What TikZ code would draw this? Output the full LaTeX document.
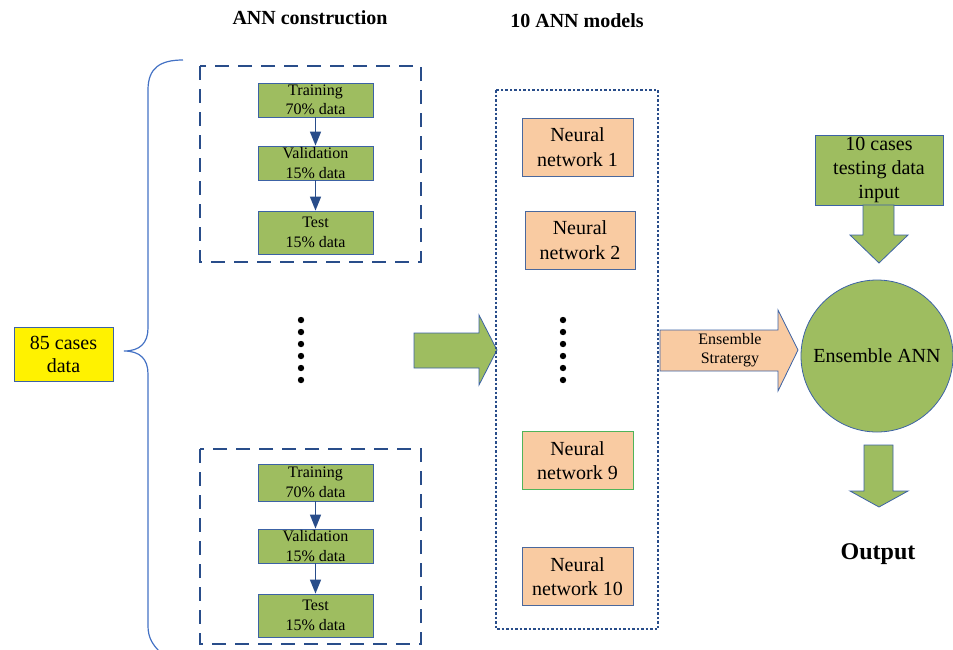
\documentclass[tikz,border=0pt]{standalone}
\usepackage{fontspec}
\setmainfont{Liberation Serif}
\usetikzlibrary{arrows.meta}
\definecolor{dblue}{RGB}{41,77,138}
\definecolor{lblue}{RGB}{60,98,165}
\definecolor{bblue}{RGB}{68,114,196}
\definecolor{ogreen}{RGB}{158,189,96}
\definecolor{lorange}{RGB}{249,203,162}
\definecolor{nngreen}{RGB}{80,180,90}
\tikzset{
  x=1pt,y=-1pt,
  phase/.style={draw=lblue,line width=0.8pt,fill=ogreen,inner sep=0pt,minimum width=115pt,align=center,font=\fontsize{16}{19.5}\selectfont},
  nnbox/.style={draw=lblue!80!gray,line width=0.8pt,fill=lorange,inner sep=0pt,minimum width=111pt,minimum height=58pt,align=center,font=\fontsize{20}{24.5}\selectfont},
  flow/.style={draw=dblue,line width=1.4pt,-{Triangle[width=11pt,length=14pt]}},
  groupbox/.style={draw=dblue,line width=2pt,dash pattern=on 14pt off 9pt},
  blockarrow/.style={draw=lblue,line width=0.8pt},
  title/.style={font=\fontsize{20}{22}\selectfont\bfseries}
}
\begin{document}
\begin{tikzpicture}
\useasboundingbox (0,0) rectangle (953,649);

% titles
\node[title] (t1) at (310,18) {ANN construction};
\node[title] (t2) at (577,21) {10 ANN models};

% 85 cases
\node[draw=lblue,line width=0.8pt,fill=yellow,minimum width=99pt,minimum height=54pt,inner sep=0pt,align=center,font=\fontsize{20}{23}\selectfont] (cases) at (63.5,354) {85 cases\\data};

% brace
\draw[bblue,line width=1.2pt] (183,60) .. controls (160,60) and (148,68) .. (148,90) -- (148,328) .. controls (148,343) and (140,351) .. (124,351) .. controls (140,351) and (148,359) .. (148,374) -- (148,626) .. controls (148,638) and (153,645) .. (160,652);

% top group
\draw[groupbox] (200,66) rectangle (421,262);
\node[phase,minimum height=34pt] (tr1) at (315.5,100) {Training\\70\% data};
\node[phase,minimum height=34pt] (va1) at (315.5,163) {Validation\\15\% data};
\node[phase,minimum height=43pt] (te1) at (315.5,232.5) {Test\\15\% data};
\draw[flow] (tr1) -- (va1);
\draw[flow] (va1) -- (te1);

% dots left
\foreach \k in {0,...,5} \fill (301,{320+12*\k}) circle (3.2pt);

% bottom group
\draw[groupbox] (200,449) rectangle (421,644);
\node[phase,minimum height=37pt] (tr2) at (315.5,482.5) {Training\\70\% data};
\node[phase,minimum height=34pt] (va2) at (315.5,546) {Validation\\15\% data};
\node[phase,minimum height=43pt] (te2) at (315.5,615.5) {Test\\15\% data};
\draw[flow] (tr2) -- (va2);
\draw[flow] (va2) -- (te2);

% big green arrow
\draw[blockarrow,fill=ogreen] (414,333) -- (479,333) -- (479,315) -- (497,350) -- (479,385) -- (479,368) -- (414,368) -- cycle;

% dotted model box
\draw[dblue,line width=2pt,dash pattern=on 2.5pt off 2pt] (496,90) rectangle (658,629);
\node[nnbox] (nn1) at (577.5,147) {Neural\\network 1};
\node[nnbox,minimum width=110pt] (nn2) at (580,240) {Neural\\network 2};
\node[nnbox,draw=nngreen] (nn9) at (577.5,460.5) {Neural\\network 9};
\node[nnbox] (nn10) at (577.5,576.5) {Neural\\network 10};
\foreach \k in {0,...,5} \fill (563,{320+12*\k}) circle (3.2pt);

% ensemble arrow
\draw[blockarrow,fill=lorange] (660,330) -- (778,330) -- (778,310) -- (798,350) -- (778,391) -- (778,371) -- (660,371) -- cycle;
\node[align=center,font=\fontsize{16}{19}\selectfont,inner sep=0pt] (ens) at (730,350.5) {Ensemble\\Stratergy};

% ensemble ANN
\node[circle,draw=lblue,line width=0.8pt,fill=ogreen,minimum size=152pt,inner sep=0pt,font=\fontsize{20}{24}\selectfont] (eann) at (877,356) {Ensemble ANN};

% testing input
\node[draw=lblue,line width=0.8pt,fill=ogreen,minimum width=128pt,minimum height=70pt,inner sep=0pt,align=center,font=\fontsize{20}{24}\selectfont] (test) at (879,170) {10 cases\\testing data\\input};
\draw[blockarrow,fill=ogreen] (863,205) -- (894,205) -- (894,235) -- (908,235) -- (879,263) -- (850,235) -- (863,235) -- cycle;

% output arrow
\draw[blockarrow,fill=ogreen] (864,445) -- (893,445) -- (893,491) -- (908,491) -- (879,507) -- (850,491) -- (864,491) -- cycle;
\node[font=\fontsize{24}{26}\selectfont\bfseries] (out) at (878,554) {Output};
\end{tikzpicture}
\end{document}
